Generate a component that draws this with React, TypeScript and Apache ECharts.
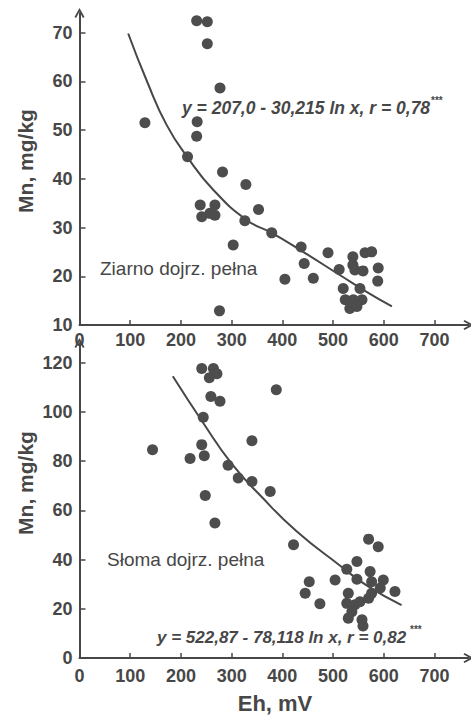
import React, { useEffect, useRef } from "react";
import * as echarts from "echarts";

// Top panel: grain (Ziarno)
const topEh = [129, 213, 231, 252, 252, 277, 232, 231, 282, 238, 267, 241, 257, 267, 276, 303, 328, 326, 353, 379, 405, 437, 443, 461, 490, 512, 539, 563, 576, 539, 543, 559, 589, 588, 520, 553, 524, 540, 557, 533, 547];
const topMn = [51.5, 44.5, 72.4, 72.2, 67.7, 58.6, 51.7, 48.7, 41.4, 34.6, 34.6, 32.2, 32.9, 32.5, 12.9, 26.4, 38.8, 31.4, 33.7, 28.9, 19.4, 26.0, 22.6, 19.6, 24.8, 21.4, 24.0, 24.8, 25.0, 22.3, 21.3, 21.1, 21.7, 19.0, 17.5, 17.5, 15.2, 15.2, 15.2, 13.4, 13.8];
const topFitEh = [96, 133, 172, 213, 264, 330, 379, 441, 514, 566, 616];
const topFitMn = [69.8, 60.0, 51.0, 44.4, 37.7, 31.5, 28.9, 25.0, 20.2, 16.8, 13.8];

// Bottom panel: straw (Słoma)
const botEh = [144, 241, 264, 271, 256, 259, 277, 244, 241, 246, 218, 293, 388, 340, 313, 340, 376, 248, 267, 422, 570, 589, 453, 445, 474, 504, 527, 547, 547, 573, 576, 599, 622, 576, 593, 530, 527, 543, 553, 570, 537, 530, 557, 559];
const botMn = [84.6, 117.6, 117.6, 115.5, 113.9, 106.3, 104.3, 97.8, 86.7, 82.2, 81.1, 78.3, 109.0, 88.3, 73.1, 71.7, 67.7, 66.0, 54.9, 46.0, 48.3, 45.2, 31.0, 26.3, 22.0, 31.7, 36.1, 39.2, 32.0, 35.1, 31.0, 31.7, 27.0, 26.3, 28.4, 26.3, 22.2, 21.6, 22.9, 24.3, 18.8, 16.2, 15.5, 13.0];
const botFitEh = [184, 244, 300, 359, 428, 514, 566, 635];
const botFitMn = [114.5, 95.5, 79.0, 65.5, 51.5, 37.5, 29.5, 21.5];

const xTicks = [0, 100, 200, 300, 400, 500, 600, 700];
const topYTicks = [10, 20, 30, 40, 50, 60, 70];
const botYTicks = [0, 20, 40, 60, 80, 100, 120];

const topEquation = "y = 207,0 - 30,215 ln x, r = 0,78";
const botEquation = "y = 522,87 - 78,118 ln x, r = 0,82";
const stars = "***";
const topLabel = "Ziarno dojrz. pełna";
const botLabel = "Słoma dojrz. pełna";
const yTitle = "Mn, mg/kg";
const xTitle = "Eh, mV";

const INK = "#474747";
const FONT = "'Liberation Sans', Arial, sans-serif";
const ARROW = "path://M0,9 L5,0 L10,9 L8.4,10 L5,3.6 L1.6,10 Z";

function zip(a: number[], b: number[]) {
  return a.map((v, i) => [v, b[i]]);
}

function xAxisDef(gridIndex: number, margin: number) {
  return {
    type: "value",
    gridIndex,
    min: 0,
    max: 767,
    axisLine: {
      show: true,
      onZero: false,
      symbol: ["none", ARROW],
      symbolSize: [11, 10],
      lineStyle: { color: INK, width: 2 },
    },
    axisTick: { show: true, inside: true, length: 5, lineStyle: { color: INK, width: 1.5 }, customValues: xTicks },
    axisLabel: { show: true, margin, color: INK, fontFamily: FONT, fontWeight: "bold", fontSize: 18, customValues: xTicks },
    splitLine: { show: false },
    z: 1,
  };
}

function yAxisDef(gridIndex: number, min: number, max: number, ticks: number[]) {
  return {
    type: "value",
    gridIndex,
    min,
    max,
    axisLine: {
      show: true,
      onZero: false,
      symbol: ["none", ARROW],
      symbolSize: [11, 10],
      lineStyle: { color: INK, width: 2 },
    },
    axisTick: { show: true, inside: true, length: 6, lineStyle: { color: INK, width: 1.5 }, customValues: ticks },
    axisLabel: { show: true, margin: 7, color: INK, fontFamily: FONT, fontWeight: "bold", fontSize: 18, customValues: ticks },
    splitLine: { show: false },
    z: 0,
  };
}

export default function App() {
  const ref = useRef<HTMLDivElement>(null);
  useEffect(() => {
    if (!ref.current) return;
    const chart = echarts.init(ref.current, undefined, { renderer: "svg" });
    const starStyle = { fill: INK, font: `bold 10px ${FONT}` };
    chart.setOption({
      animation: false,
      backgroundColor: "#ffffff",
      grid: [
        { left: 79.5, top: 13, width: 389, height: 312 },
        { left: 79.5, top: 343, width: 389, height: 315 },
      ],
      xAxis: [xAxisDef(0, 6), xAxisDef(1, 9)],
      yAxis: [yAxisDef(0, 10, 74, topYTicks), yAxisDef(1, 0, 128, botYTicks)],
      series: [
        {
          type: "line",
          xAxisIndex: 0,
          yAxisIndex: 0,
          data: zip(topFitEh, topFitMn),
          smooth: true,
          showSymbol: false,
          lineStyle: { color: INK, width: 2 },
          z: 2,
        },
        {
          type: "scatter",
          xAxisIndex: 0,
          yAxisIndex: 0,
          data: zip(topEh, topMn),
          symbolSize: 11,
          itemStyle: { color: "#4d4d4d", opacity: 1 },
          z: 3,
        },
        {
          type: "line",
          xAxisIndex: 1,
          yAxisIndex: 1,
          data: zip(botFitEh, botFitMn),
          smooth: true,
          showSymbol: false,
          lineStyle: { color: INK, width: 2 },
          z: 2,
        },
        {
          type: "scatter",
          xAxisIndex: 1,
          yAxisIndex: 1,
          data: zip(botEh, botMn),
          symbolSize: 11,
          itemStyle: { color: "#4d4d4d", opacity: 1 },
          z: 3,
        },
      ],
      graphic: [
        { type: "text", x: 182, y: 108, style: { fill: INK, font: `italic bold 17.5px ${FONT}`, text: topEquation, textVerticalAlign: "middle" } },
        { type: "text", x: 431, y: 100, style: { ...starStyle, text: stars, textVerticalAlign: "middle" } },
        { type: "text", x: 157, y: 637, style: { fill: INK, font: `italic bold 17px ${FONT}`, text: botEquation, textVerticalAlign: "middle" } },
        { type: "text", x: 410, y: 629, style: { ...starStyle, text: stars, textVerticalAlign: "middle" } },
        { type: "text", x: 100, y: 268, style: { fill: INK, font: `19px ${FONT}`, text: topLabel, textVerticalAlign: "middle" } },
        { type: "text", x: 107, y: 559, style: { fill: INK, font: `19px ${FONT}`, text: botLabel, textVerticalAlign: "middle" } },
        { type: "text", x: 25, y: 161, rotation: Math.PI / 2, style: { fill: INK, font: `bold 21px ${FONT}`, text: yTitle, textAlign: "center", textVerticalAlign: "middle" } },
        { type: "text", x: 25, y: 483, rotation: Math.PI / 2, style: { fill: INK, font: `bold 21px ${FONT}`, text: yTitle, textAlign: "center", textVerticalAlign: "middle" } },
        { type: "text", x: 275, y: 703, style: { fill: INK, font: `bold 22px ${FONT}`, text: xTitle, textAlign: "center", textVerticalAlign: "middle" } },
      ],
    });
    return () => chart.dispose();
  }, []);
  return <div ref={ref} style={{ position: "fixed", left: 0, top: 0, width: 471, height: 717 }} />;
}
